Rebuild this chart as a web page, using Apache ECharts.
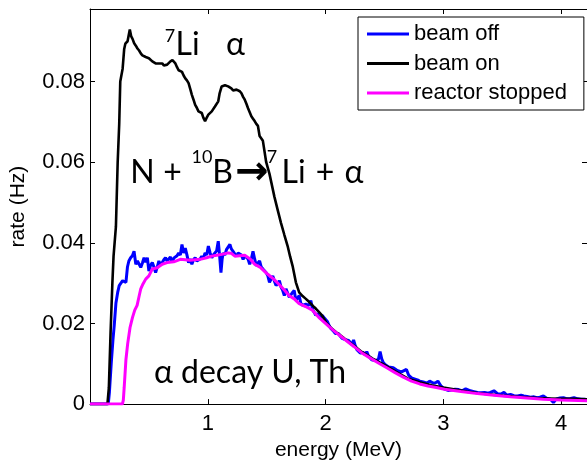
<!DOCTYPE html>
<html>
<head>
<meta charset="utf-8">
<script src="https://cdn.jsdelivr.net/npm/echarts@6/dist/echarts.min.js"></script>
<style>
html,body{margin:0;padding:0;background:#fff;}
#chart{width:587px;height:466px;}
</style>
</head>
<body>
<div id="chart"></div>
<script>
// ---- data: [energy (MeV), rate (Hz)] ----
var xTicks = [1, 2, 3, 4];
var yTicks = [0, 0.02, 0.04, 0.06, 0.08];
var legendNames = ['beam off', 'beam on', 'reactor stopped'];

var beamOff = [[0,0],[0.10,0],[0.155,0],[0.165,0.003],[0.18,0.010],[0.195,0.016],[0.206,0.0196],[0.22,0.025],[0.235,0.0277],[0.248,0.0294],[0.262,0.0298],[0.277,0.0306],[0.29,0.031],[0.305,0.0302],[0.318,0.034],[0.33,0.0355],[0.345,0.0363],[0.36,0.0368],[0.374,0.0379],[0.389,0.0347],[0.403,0.0355],[0.417,0.0359],[0.431,0.0339],[0.445,0.035],[0.459,0.0363],[0.473,0.0352],[0.487,0.0363],[0.50,0.033],[0.515,0.0345],[0.529,0.0351],[0.543,0.034],[0.557,0.0326],[0.571,0.034],[0.585,0.0355],[0.60,0.0345],[0.613,0.0351],[0.627,0.0358],[0.641,0.0363],[0.655,0.0355],[0.669,0.0359],[0.683,0.0365],[0.697,0.0351],[0.711,0.0362],[0.725,0.0359],[0.739,0.0368],[0.753,0.0375],[0.767,0.037],[0.781,0.0396],[0.795,0.0375],[0.809,0.0387],[0.823,0.037],[0.837,0.0351],[0.851,0.036],[0.865,0.0347],[0.879,0.0358],[0.893,0.0363],[0.907,0.0355],[0.921,0.0351],[0.935,0.036],[0.949,0.0367],[0.963,0.0362],[0.977,0.0375],[0.991,0.037],[1.005,0.0392],[1.02,0.0375],[1.034,0.0363],[1.047,0.037],[1.061,0.0375],[1.075,0.038],[1.089,0.0404],[1.10,0.037],[1.112,0.0326],[1.122,0.036],[1.131,0.0375],[1.145,0.037],[1.16,0.0384],[1.174,0.038],[1.188,0.0396],[1.20,0.0385],[1.215,0.0379],[1.23,0.0372],[1.244,0.0367],[1.258,0.0375],[1.272,0.0379],[1.286,0.037],[1.30,0.0359],[1.314,0.0368],[1.328,0.0371],[1.342,0.036],[1.356,0.0347],[1.37,0.036],[1.384,0.0379],[1.398,0.036],[1.412,0.0343],[1.426,0.035],[1.44,0.0355],[1.454,0.034],[1.468,0.0335],[1.482,0.0338],[1.496,0.0326],[1.51,0.0318],[1.524,0.0302],[1.538,0.031],[1.552,0.0318],[1.566,0.0305],[1.58,0.0294],[1.594,0.0298],[1.608,0.0306],[1.622,0.029],[1.636,0.0282],[1.65,0.0269],[1.664,0.0286],[1.678,0.029],[1.692,0.0265],[1.706,0.0265],[1.72,0.0277],[1.734,0.0282],[1.748,0.0257],[1.762,0.0257],[1.776,0.0269],[1.79,0.025],[1.804,0.0245],[1.818,0.0241],[1.832,0.0248],[1.846,0.0252],[1.86,0.0245],[1.875,0.0257],[1.89,0.0235],[1.903,0.0228],[1.917,0.022],[1.93,0.0225],[1.944,0.0218],[1.958,0.0212],[1.972,0.022],[1.986,0.0215],[2.0,0.0212],[2.015,0.0205],[2.03,0.0195],[2.043,0.0188],[2.057,0.0185],[2.07,0.018],[2.084,0.0175],[2.098,0.0171],[2.11,0.0175],[2.126,0.0168],[2.14,0.0163],[2.154,0.0165],[2.168,0.016],[2.182,0.0162],[2.196,0.0158],[2.21,0.0155],[2.224,0.0148],[2.238,0.0159],[2.252,0.0145],[2.266,0.0135],[2.28,0.0132],[2.294,0.0127],[2.31,0.0125],[2.322,0.0128],[2.336,0.0122],[2.35,0.013],[2.364,0.012],[2.378,0.0115],[2.392,0.011],[2.406,0.0112],[2.42,0.0108],[2.434,0.0105],[2.448,0.011],[2.463,0.013],[2.477,0.0112],[2.49,0.0103],[2.505,0.0098],[2.52,0.0095],[2.535,0.0092],[2.55,0.0095],[2.575,0.009],[2.60,0.0085],[2.62,0.0082],[2.645,0.008],[2.666,0.0083],[2.687,0.0086],[2.705,0.0072],[2.73,0.0065],[2.76,0.0062],[2.78,0.006],[2.80,0.0057],[2.83,0.0055],[2.86,0.0052],[2.884,0.0057],[2.91,0.0053],[2.93,0.0052],[2.954,0.0057],[2.98,0.0045],[3.01,0.0037],[3.04,0.0034],[3.07,0.0035],[3.10,0.0037],[3.13,0.0036],[3.16,0.0033],[3.19,0.0038],[3.206,0.0041],[3.23,0.0033],[3.26,0.0031],[3.29,0.0029],[3.32,0.0028],[3.35,0.0029],[3.38,0.0027],[3.40,0.0029],[3.43,0.0033],[3.46,0.0026],[3.49,0.0025],[3.515,0.0029],[3.54,0.0022],[3.57,0.0024],[3.6,0.0021],[3.63,0.002],[3.66,0.0022],[3.683,0.002],[3.71,0.0019],[3.74,0.0017],[3.77,0.0018],[3.795,0.0016],[3.82,0.0017],[3.85,0.002],[3.88,0.0014],[3.91,0.0012],[3.935,0.0004],[3.96,0.0013],[3.99,0.0015],[4.02,0.0016],[4.05,0.0013],[4.08,0.0014],[4.11,0.0016],[4.14,0.0013],[4.17,0.0012],[4.20,0.0012],[4.22,0.0011]];

var beamOn = [[0,0],[0.10,0],[0.148,0],[0.16,0.004],[0.175,0.018],[0.19,0.030],[0.20,0.0367],[0.22,0.044],[0.235,0.060],[0.248,0.0694],[0.257,0.080],[0.277,0.0832],[0.29,0.088],[0.30,0.0894],[0.319,0.090],[0.338,0.0929],[0.35,0.0912],[0.361,0.0906],[0.375,0.0895],[0.389,0.0889],[0.403,0.0882],[0.417,0.0877],[0.431,0.087],[0.445,0.0865],[0.459,0.0868],[0.473,0.0861],[0.487,0.0862],[0.50,0.0858],[0.515,0.0855],[0.529,0.085],[0.543,0.0848],[0.557,0.0845],[0.571,0.0848],[0.585,0.0845],[0.60,0.0842],[0.613,0.0845],[0.627,0.084],[0.641,0.0836],[0.655,0.0842],[0.669,0.0845],[0.683,0.085],[0.70,0.0853],[0.712,0.085],[0.725,0.0845],[0.74,0.0835],[0.753,0.0828],[0.767,0.0832],[0.781,0.0824],[0.795,0.0815],[0.809,0.0808],[0.823,0.0803],[0.837,0.0796],[0.851,0.0782],[0.865,0.0767],[0.879,0.0755],[0.893,0.0742],[0.907,0.0735],[0.921,0.0726],[0.935,0.0728],[0.949,0.0722],[0.963,0.071],[0.977,0.0702],[0.99,0.071],[1.005,0.0718],[1.02,0.0722],[1.034,0.0726],[1.047,0.073],[1.061,0.0738],[1.075,0.0742],[1.089,0.0751],[1.10,0.077],[1.118,0.0788],[1.132,0.079],[1.146,0.0791],[1.16,0.0788],[1.173,0.0788],[1.187,0.0785],[1.20,0.0783],[1.215,0.0778],[1.23,0.0775],[1.244,0.078],[1.257,0.0782],[1.272,0.0776],[1.286,0.0771],[1.30,0.0762],[1.314,0.0755],[1.328,0.0745],[1.342,0.0734],[1.356,0.0724],[1.37,0.0714],[1.384,0.0708],[1.398,0.0702],[1.412,0.0695],[1.426,0.069],[1.44,0.0665],[1.468,0.0653],[1.496,0.060],[1.524,0.0571],[1.566,0.0514],[1.595,0.048],[1.622,0.0449],[1.65,0.042],[1.678,0.0392],[1.70,0.0365],[1.72,0.0343],[1.748,0.0302],[1.776,0.0277],[1.805,0.0268],[1.833,0.0261],[1.855,0.0255],[1.875,0.0249],[1.895,0.0243],[1.917,0.0237],[1.945,0.0228],[1.97,0.022],[2.01,0.020],[2.05,0.0188],[2.1,0.0176],[2.15,0.0165],[2.2,0.0153],[2.25,0.0143],[2.3,0.0131],[2.35,0.0122],[2.4,0.0113],[2.45,0.0105],[2.5,0.0097],[2.6,0.008],[2.7,0.0063],[2.8,0.0054],[2.9,0.0047],[3.0,0.0041],[3.1,0.0036],[3.2,0.0031],[3.3,0.0027],[3.4,0.0024],[3.5,0.0021],[3.6,0.0019],[3.7,0.0017],[3.8,0.0015],[3.9,0.0014],[4.0,0.0013],[4.1,0.0013],[4.22,0.0012]];

var reactorStopped = [[0,0],[0.275,0],[0.283,0.001],[0.29,0.004],[0.305,0.011],[0.32,0.015],[0.34,0.019],[0.361,0.0215],[0.38,0.0233],[0.40,0.0245],[0.415,0.0265],[0.431,0.0286],[0.45,0.0298],[0.473,0.031],[0.50,0.0318],[0.529,0.0335],[0.543,0.0337],[0.571,0.0338],[0.613,0.0347],[0.655,0.0351],[0.711,0.0353],[0.767,0.0359],[0.85,0.0357],[0.935,0.0359],[0.99,0.0363],[1.034,0.0367],[1.076,0.0369],[1.13,0.0372],[1.173,0.0375],[1.20,0.0374],[1.23,0.0367],[1.27,0.0368],[1.314,0.0369],[1.36,0.036],[1.398,0.0347],[1.45,0.0338],[1.51,0.0322],[1.56,0.031],[1.608,0.0296],[1.65,0.0283],[1.692,0.0269],[1.734,0.0261],[1.776,0.0249],[1.83,0.0242],[1.888,0.0233],[1.95,0.0213],[2.03,0.0192],[2.1,0.0175],[2.17,0.0159],[2.24,0.0143],[2.309,0.0127],[2.38,0.0114],[2.449,0.0102],[2.52,0.009],[2.59,0.0078],[2.66,0.0067],[2.73,0.0057],[2.80,0.005],[2.87,0.0045],[2.94,0.0041],[3.01,0.0037],[3.15,0.0031],[3.29,0.0026],[3.43,0.0022],[3.57,0.0018],[3.71,0.0015],[3.85,0.0012],[4.0,0.001],[4.22,0.0008]];

var seriesColors = ['#0000ff', '#000000', '#ff00ff'];

var chart = echarts.init(document.getElementById('chart'), null, {renderer: 'canvas'});
var tickFont = 'Liberation Sans';
var annFont = 'Lato';

function ann(text, cx, cy, size, family, weight) {
  return {
    type: 'text', x: cx, y: cy, z: 100,
    style: {
      text: text, fill: '#000',
      font: (weight || 'normal') + ' ' + size + 'px ' + family,
      align: 'center', verticalAlign: 'middle',
      textAlign: 'center', textVerticalAlign: 'middle'
    }
  };
}

var option = {
  animation: false,
  backgroundColor: '#fff',
  grid: {left: 89, top: 9, width: 502, height: 401, containLabel: false},
  xAxis: [{
    type: 'value', min: 0, max: 4.22, interval: 1,
    axisLine: {show: true, onZero: false, lineStyle: {color: '#000', width: 1}},
    axisTick: {show: true, inside: true, length: 5, lineStyle: {color: '#000'}},
    splitLine: {show: false},
    axisLabel: {
      show: true, color: '#000', fontSize: 22, fontFamily: tickFont, margin: 9,
      showMinLabel: false, showMaxLabel: false,
      formatter: function (v) { return xTicks.indexOf(v) >= 0 ? String(v) : ''; }
    },
    name: 'energy (MeV)', nameLocation: 'middle', nameGap: 31,
    nameTextStyle: {color: '#000', fontSize: 21, fontFamily: tickFont}
  }, {
    type: 'value', position: 'top', min: 0, max: 4.22, interval: 1,
    axisLine: {show: true, onZero: false, lineStyle: {color: '#000', width: 1}},
    axisTick: {show: true, inside: true, length: 5, lineStyle: {color: '#000'}},
    axisLabel: {show: false}, splitLine: {show: false}
  }],
  yAxis: [{
    type: 'value', min: 0, max: 0.098, interval: 0.02,
    axisLine: {show: true, onZero: false, lineStyle: {color: '#000', width: 1}},
    axisTick: {show: true, inside: true, length: 5, lineStyle: {color: '#000'}},
    splitLine: {show: false},
    axisLabel: {
      show: true, color: '#000', fontSize: 22, fontFamily: tickFont, margin: 5,
      showMaxLabel: false,
      formatter: function (v) {
        var k = Math.round(v / 0.02);
        if (Math.abs(v - k * 0.02) > 1e-9) return '';
        var t = yTicks[k];
        return t === undefined ? '' : (t === 0 ? '0' : t.toFixed(2));
      }
    },
    name: 'rate (Hz)', nameLocation: 'middle', nameGap: 61,
    nameTextStyle: {color: '#000', fontSize: 21, fontFamily: tickFont}
  }, {
    type: 'value', position: 'right', min: 0, max: 0.098, interval: 0.02,
    axisLine: {show: true, onZero: false, lineStyle: {color: '#000', width: 1}},
    axisTick: {show: true, inside: true, length: 5, lineStyle: {color: '#000'}},
    axisLabel: {show: false}, splitLine: {show: false}
  }],
  legend: {
    orient: 'vertical', left: 358, top: 17,
    data: legendNames.map(function (n) { return {name: n, icon: 'rect'}; }),
    itemWidth: 42, itemHeight: 3, itemGap: 7.5,
    padding: [6, 17, 6, 9],
    backgroundColor: '#fff', borderColor: '#000', borderWidth: 1, borderRadius: 0,
    textStyle: {color: '#000', fontSize: 22, fontFamily: tickFont, lineHeight: 21},
    selectedMode: false
  },
  series: [
    {name: legendNames[0], data: beamOff, color: seriesColors[0]},
    {name: legendNames[1], data: beamOn, color: seriesColors[1]},
    {name: legendNames[2], data: reactorStopped, color: seriesColors[2]}
  ].map(function (s, i) {
    return {
      name: s.name, type: 'line', data: s.data, showSymbol: false, symbol: 'none',
      xAxisIndex: 0, yAxisIndex: 0, clip: true,
      itemStyle: {color: s.color},
      lineStyle: {color: s.color, width: i === 1 ? 2.6 : 3},
      z: 2 + i
    };
  }),
  graphic: {elements: [
    ann('7', 170, 36, 18, annFont),
    ann('Li', 187.5, 44.3, 32, annFont),
    ann('\u03b1', 235.5, 44.3, 32, annFont),
    ann('N', 142.5, 172.6, 32, annFont),
    ann('+', 172.5, 172.6, 32, annFont),
    ann('10', 202, 157, 18, annFont),
    ann('B', 222.5, 172.6, 32, annFont),
    ann('\u2192', 252, 174, 40, 'DejaVu Sans', 'bold'),
    ann('7', 272, 157, 18, annFont),
    ann('Li', 293.5, 172.6, 32, annFont),
    ann('+', 325, 172.6, 32, annFont),
    ann('\u03b1', 354, 172.6, 32, annFont),
    ann('\u03b1 decay U, Th', 250, 372.6, 32, annFont)
  ]}
};
chart.setOption(option);
</script>
</body>
</html>
